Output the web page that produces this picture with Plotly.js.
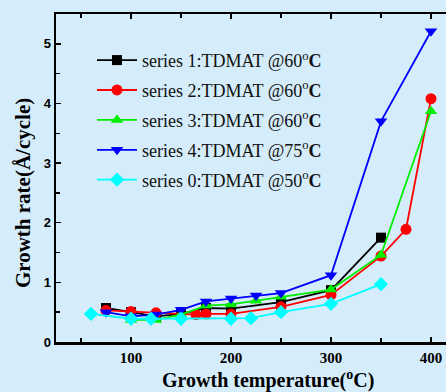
<!DOCTYPE html>
<html>
<head>
<meta charset="utf-8">
<script src="https://cdn.plot.ly/plotly-3.0.1.min.js"></script>
<style>
html,body{margin:0;padding:0;overflow:hidden;background:#d5ecfa;}
#chart{width:470px;height:392px;}
</style>
</head>
<body>
<div id="chart"></div>
<script>
// Data
const s1x = [75, 100, 125, 150, 175, 200, 250, 300, 350];
const s1y = [0.57, 0.50, 0.43, 0.47, 0.57, 0.56, 0.67, 0.87, 1.75];

const s2x = [75, 100, 125, 165, 175, 200, 250, 300, 350, 375, 400];
const s2y = [0.53, 0.51, 0.49, 0.46, 0.47, 0.47, 0.59, 0.79, 1.44, 1.89, 4.08];

const s3x = [100, 125, 150, 175, 200, 225, 250, 300, 350, 400];
const s3y = [0.37, 0.37, 0.46, 0.61, 0.63, 0.69, 0.76, 0.88, 1.46, 3.87];

const s4x = [75, 100, 125, 150, 175, 200, 225, 250, 300, 350, 400];
const s4y = [0.50, 0.43, 0.46, 0.54, 0.68, 0.73, 0.78, 0.82, 1.12, 3.70, 5.21];

const s0x = [60, 100, 120, 150, 200, 220, 250, 300, 350];
const s0y = [0.47, 0.39, 0.39, 0.39, 0.39, 0.40, 0.50, 0.64, 0.97];

const names = [
  'series 1:TDMAT @60<sup>o</sup><b>C</b>',
  'series 2:TDMAT @60<sup>o</sup><b>C</b>',
  'series 3:TDMAT @60<sup>o</sup><b>C</b>',
  'series 4:TDMAT @75<sup>o</sup><b>C</b>',
  'series 0:TDMAT @50<sup>o</sup><b>C</b>'
];
const colors = ['#000000', '#ff0000', '#00ee00', '#0000ff', '#00ffff'];
const symbols = ['square', 'circle', 'triangle-up', 'triangle-down', 'diamond'];
const xs = [s1x, s2x, s3x, s4x, s0x];
const ys = [s1y, s2y, s3y, s4y, s0y];
const sizes = [10, 11, 11, 11, 11];

const traces = xs.map((x, i) => ({
  x: x, y: ys[i], name: names[i], type: 'scatter', mode: 'lines+markers',
  legendgroup: 'g' + i,
  line: {color: colors[i], width: 1.8},
  marker: {color: colors[i], symbol: symbols[i], size: sizes[i]}
}));

const layout = {
  width: 470, height: 392,
  margin: {l: 56, r: 14, t: 14, b: 50},
  paper_bgcolor: '#d5ecfa', plot_bgcolor: '#d5ecfa',
  showlegend: true,
  legend: {
    x: 0.09, y: 0.915, xanchor: 'left', yanchor: 'top',
    bgcolor: 'rgba(0,0,0,0)', borderwidth: 0,
    font: {family: 'Liberation Serif, serif', size: 18, color: '#111'},
    itemwidth: 40, tracegroupgap: 3.5
  },
  xaxis: {
    range: [25, 425], tickvals: [100, 200, 300, 400],
    ticks: 'inside', ticklen: 5, tickwidth: 1.5, tickcolor: '#000',
    minor: {tickvals: [50, 150, 250, 350], ticks: 'inside', ticklen: 4, tickwidth: 1.5, tickcolor: '#000'},
    showline: true, linewidth: 2.5, linecolor: '#000', mirror: 'ticks',
    showgrid: false, zeroline: false,
    tickfont: {family: 'Liberation Serif, serif', size: 15, color: '#000', weight: 'bold'}
  },
  yaxis: {
    range: [0, 5.5], tickvals: [0, 1, 2, 3, 4, 5],
    ticks: 'inside', ticklen: 5, tickwidth: 1.5, tickcolor: '#000',
    minor: {tickvals: [0.5, 1.5, 2.5, 3.5, 4.5], ticks: 'inside', ticklen: 4, tickwidth: 1.5, tickcolor: '#000'},
    showline: true, linewidth: 2.5, linecolor: '#000', mirror: 'ticks',
    showgrid: false, zeroline: false,
    tickfont: {family: 'Liberation Sans, Arial, sans-serif', size: 13, color: '#000', weight: 'bold'}
  },
  annotations: [
    {text: '<b>Growth temperature(<sup>o</sup>C)</b>', xref: 'paper', yref: 'paper',
     x: 0.53, y: 0, xanchor: 'center', yanchor: 'middle', yshift: -37, showarrow: false,
     font: {family: 'Liberation Serif, serif', size: 20, color: '#000'}},
    {text: '<b>Growth rate(Å/cycle)</b>', xref: 'paper', yref: 'paper', textangle: -90,
     x: 0, y: 0.454, xanchor: 'center', yanchor: 'middle', xshift: -33, showarrow: false,
     font: {family: 'Liberation Serif, serif', size: 21, color: '#000'}}
  ]
};

Plotly.newPlot('chart', traces, layout, {displayModeBar: false, staticPlot: true});
</script>
</body>
</html>
